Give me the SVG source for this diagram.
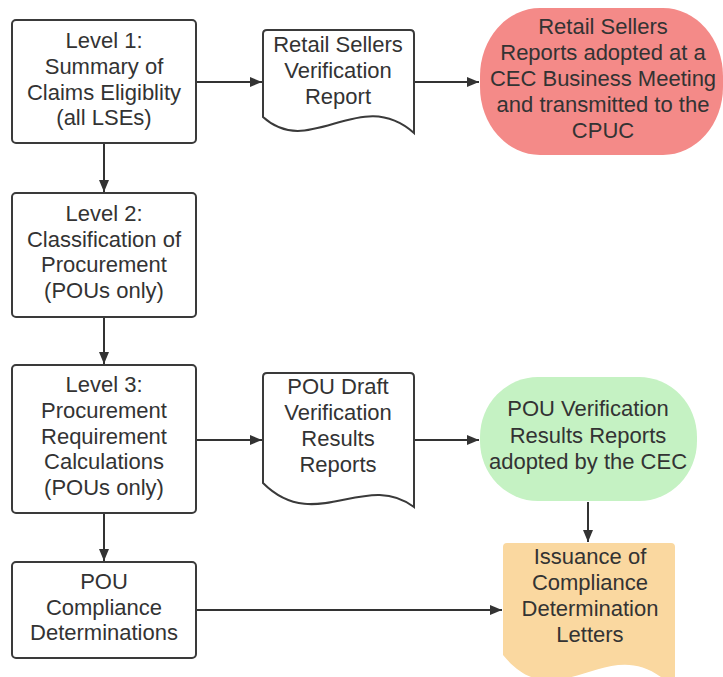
<svg xmlns="http://www.w3.org/2000/svg" width="723" height="677" viewBox="0 0 723 677">
<style>
.box{fill:#fff;stroke:#3a3a3a;stroke-width:2}
.t{font-family:"Liberation Sans",Arial,sans-serif;font-size:22px;fill:#333;text-anchor:middle}
.c{fill:none;stroke:#333;stroke-width:2}
</style>
<defs>
<marker id="ah" viewBox="0 0 12 10" refX="12" refY="5" markerWidth="12" markerHeight="10" markerUnits="userSpaceOnUse" orient="auto">
<path d="M0,0 L12,5 L0,10 Z" fill="#333"/>
</marker>
</defs>
<rect width="723" height="677" fill="#fff"/>
<g id="connectors">
<path class="c" d="M196,82 H262" marker-end="url(#ah)"/>
<path class="c" d="M414,82 H479" marker-end="url(#ah)"/>
<path class="c" d="M104,143 V192" marker-end="url(#ah)"/>
<path class="c" d="M104,317 V364" marker-end="url(#ah)"/>
<path class="c" d="M196,440 H262" marker-end="url(#ah)"/>
<path class="c" d="M414,440 H479" marker-end="url(#ah)"/>
<path class="c" d="M588,502 V542" marker-end="url(#ah)"/>
<path class="c" d="M104,513 V561" marker-end="url(#ah)"/>
<path class="c" d="M196,610 H502" marker-end="url(#ah)"/>
</g>
<g id="level1">
<rect class="box" x="12" y="20" width="184" height="123" rx="4"/>
<text class="t" x="104" y="47.5">Level 1:</text>
<text class="t" x="104" y="73.5">Summary of</text>
<text class="t" x="104" y="99.5">Claims Eligiblity</text>
<text class="t" x="104" y="125">(all LSEs)</text>
</g>
<g id="level2">
<rect class="box" x="12" y="193" width="184" height="124" rx="4"/>
<text class="t" x="104" y="221">Level 2:</text>
<text class="t" x="104" y="247">Classification of</text>
<text class="t" x="104" y="272">Procurement</text>
<text class="t" x="104" y="298">(POUs only)</text>
</g>
<g id="level3">
<rect class="box" x="12" y="365" width="184" height="148" rx="4"/>
<text class="t" x="104" y="392">Level 3:</text>
<text class="t" x="104" y="418">Procurement</text>
<text class="t" x="104" y="443.5">Requirement</text>
<text class="t" x="104" y="469">Calculations</text>
<text class="t" x="104" y="495">(POUs only)</text>
</g>
<g id="pou-compliance">
<rect class="box" x="12" y="562" width="184" height="96" rx="4"/>
<text class="t" x="104" y="589">POU</text>
<text class="t" x="104" y="615">Compliance</text>
<text class="t" x="104" y="640">Determinations</text>
</g>
<g id="retail-report">
<path class="box" d="M263,117 V34 Q263,30 267,30 H410 Q414,30 414,34 V133 C360,85 310,160 263,117 Z"/>
<text class="t" x="338" y="52">Retail Sellers</text>
<text class="t" x="338" y="78">Verification</text>
<text class="t" x="338" y="103.5">Report</text>
</g>
<g id="retail-adopted">
<rect x="480" y="8" width="243" height="147" rx="60" ry="68" fill="#F48A88"/>
<text class="t" x="603" y="33.5">Retail Sellers</text>
<text class="t" x="603" y="59.5">Reports adopted at a</text>
<text class="t" x="603" y="85.5">CEC Business Meeting</text>
<text class="t" x="603" y="111.5">and transmitted to the</text>
<text class="t" x="603" y="137.5">CPUC</text>
</g>
<g id="pou-draft">
<path class="box" d="M263,483 V377 Q263,373 267,373 H410 Q414,373 414,377 V507 C365,470 315,535 263,483 Z"/>
<text class="t" x="338" y="393.5">POU Draft</text>
<text class="t" x="338" y="420">Verification</text>
<text class="t" x="338" y="446">Results</text>
<text class="t" x="338" y="472">Reports</text>
</g>
<g id="pou-adopted">
<rect x="480" y="377" width="217" height="124" rx="58" ry="60" fill="#C5F2C3"/>
<text class="t" x="588" y="416">POU Verification</text>
<text class="t" x="588" y="442.5">Results Reports</text>
<text class="t" x="588" y="468.5">adopted by the CEC</text>
</g>
<g id="letters">
<path d="M503,655 V547 Q503,543 507,543 H671 Q675,543 675,547 V690 C612,620 560,725 503,655 Z" fill="#FAD8A0"/>
<text class="t" x="590" y="564">Issuance of</text>
<text class="t" x="590" y="590">Compliance</text>
<text class="t" x="590" y="616">Determination</text>
<text class="t" x="590" y="642">Letters</text>
</g>
</svg>
